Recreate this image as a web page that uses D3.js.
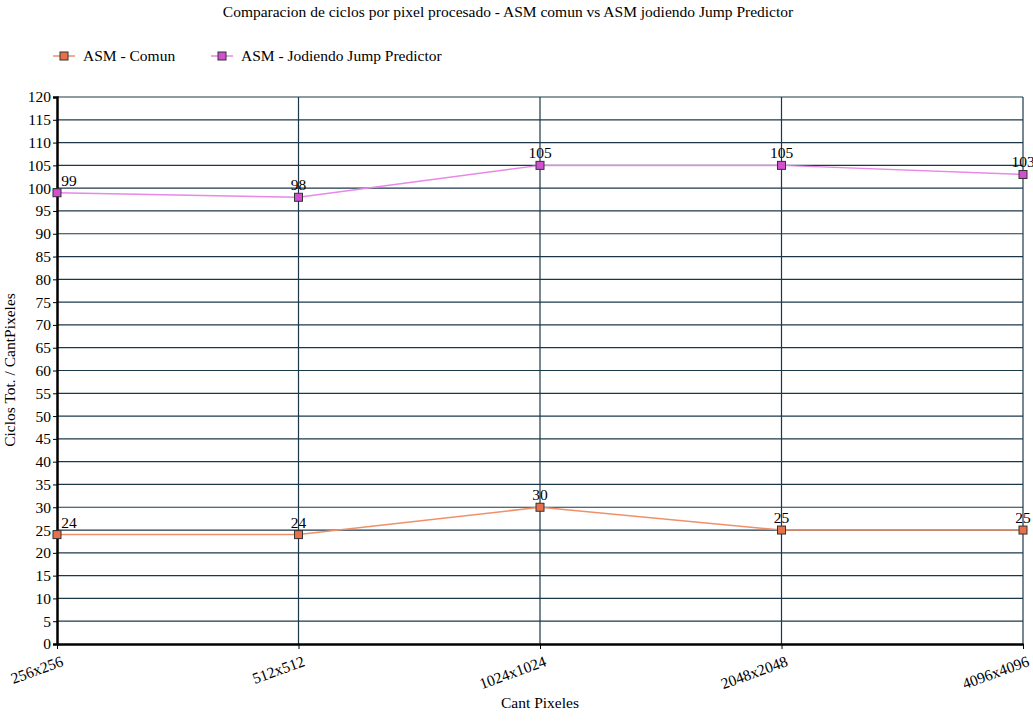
<!DOCTYPE html>
<html><head><meta charset="utf-8">
<script src="https://cdn.jsdelivr.net/npm/d3@7"></script>
<style>body{margin:0;background:#fff}text{font-family:"Liberation Serif","DejaVu Serif",serif}</style>
</head><body><svg id="chart" width="1033" height="721"></svg>
<script>
var categories = ['256x256', '512x512', '1024x1024', '2048x2048', '4096x4096'];
var asmComun = [24, 24, 30, 25, 25];
var asmJump = [99, 98, 105, 105, 103];
var yTicks = d3.range(0, 121, 5);

var series = [
  {name: 'ASM - Comun', values: asmComun, line: '#f0906a', fill: '#e8704a'},
  {name: 'ASM - Jodiendo Jump Predictor', values: asmJump, line: '#e888e8', fill: '#d050d0'}
];

var svg = d3.select('#chart');
var mLeft = 57, mRight = 1023, mTop = 97, mBottom = 644;
var fs = 15.5;

var x = d3.scalePoint().domain(categories).range([mLeft, mRight]);
var y = d3.scaleLinear().domain([0, 120]).range([mBottom, mTop]);

svg.append('text').attr('x', 508).attr('y', 17).attr('text-anchor', 'middle')
  .attr('font-size', fs).text('Comparacion de ciclos por pixel procesado - ASM comun vs ASM jodiendo Jump Predictor');

// grid
svg.append('g').selectAll('line').data(yTicks.slice(1)).join('line')
  .attr('x1', mLeft).attr('x2', mRight).attr('y1', y).attr('y2', y)
  .attr('stroke', '#1c3848').attr('stroke-width', 1.2);
svg.append('g').selectAll('line').data(categories.slice(1)).join('line')
  .attr('x1', x).attr('x2', x).attr('y1', mTop).attr('y2', mBottom)
  .attr('stroke', '#1c3848').attr('stroke-width', 1.2);

// axes
var ya = svg.append('g').attr('transform', 'translate(' + mLeft + ',0)')
  .call(d3.axisLeft(y).tickValues(yTicks).tickSize(4).tickPadding(2));
ya.select('.domain').attr('stroke-width', 2.5);
ya.selectAll('text').attr('font-size', fs).attr('fill', '#000');

var xa = svg.append('g').attr('transform', 'translate(0,' + mBottom + ')')
  .call(d3.axisBottom(x).tickSize(5).tickSizeOuter(0));
xa.select('.domain').attr('stroke-width', 2.5);
xa.selectAll('text').attr('font-size', fs).attr('fill', '#000')
  .attr('text-anchor', 'end').attr('dy', 0).attr('transform', 'translate(4,14) rotate(-20)');

svg.append('text').attr('x', 540).attr('y', 708).attr('text-anchor', 'middle')
  .attr('font-size', fs).text('Cant Pixeles');
svg.append('text').attr('transform', 'translate(15,370) rotate(-90)').attr('text-anchor', 'middle')
  .attr('font-size', fs).text('Ciclos Tot. / CantPixeles');

var line = d3.line().x(function(d, i) { return x(categories[i]); }).y(function(d) { return y(d); });

series.forEach(function(s) {
  svg.append('path').datum(s.values).attr('d', line).attr('fill', 'none')
    .attr('stroke', s.line).attr('stroke-width', 1.5);
  svg.append('g').selectAll('rect').data(s.values).join('rect')
    .attr('x', function(d, i) { return x(categories[i]) - 4; })
    .attr('y', function(d) { return y(d) - 4; })
    .attr('width', 8).attr('height', 8).attr('fill', s.fill).attr('stroke', '#333').attr('stroke-width', 1);
  svg.append('g').selectAll('text').data(s.values).join('text')
    .attr('x', function(d, i) { return i === 0 ? x(categories[i]) + 12 : x(categories[i]); })
    .attr('y', function(d) { return y(d) - 7; })
    .attr('text-anchor', 'middle').attr('font-size', fs).text(function(d) { return d; });
});

// legend
var lg = svg.append('g').selectAll('g').data(series).join('g')
  .attr('transform', function(d, i) { return 'translate(' + (i === 0 ? 53 : 211) + ',56)'; });
lg.append('line').attr('x1', 0).attr('x2', 22).attr('stroke', function(d) { return d.line; }).attr('stroke-width', 1.5);
lg.append('rect').attr('x', 7).attr('y', -4).attr('width', 8).attr('height', 8)
  .attr('fill', function(d) { return d.fill; }).attr('stroke', '#333');
lg.append('text').attr('x', 30).attr('y', 5).attr('font-size', fs).text(function(d) { return d.name; });
</script></body></html>
